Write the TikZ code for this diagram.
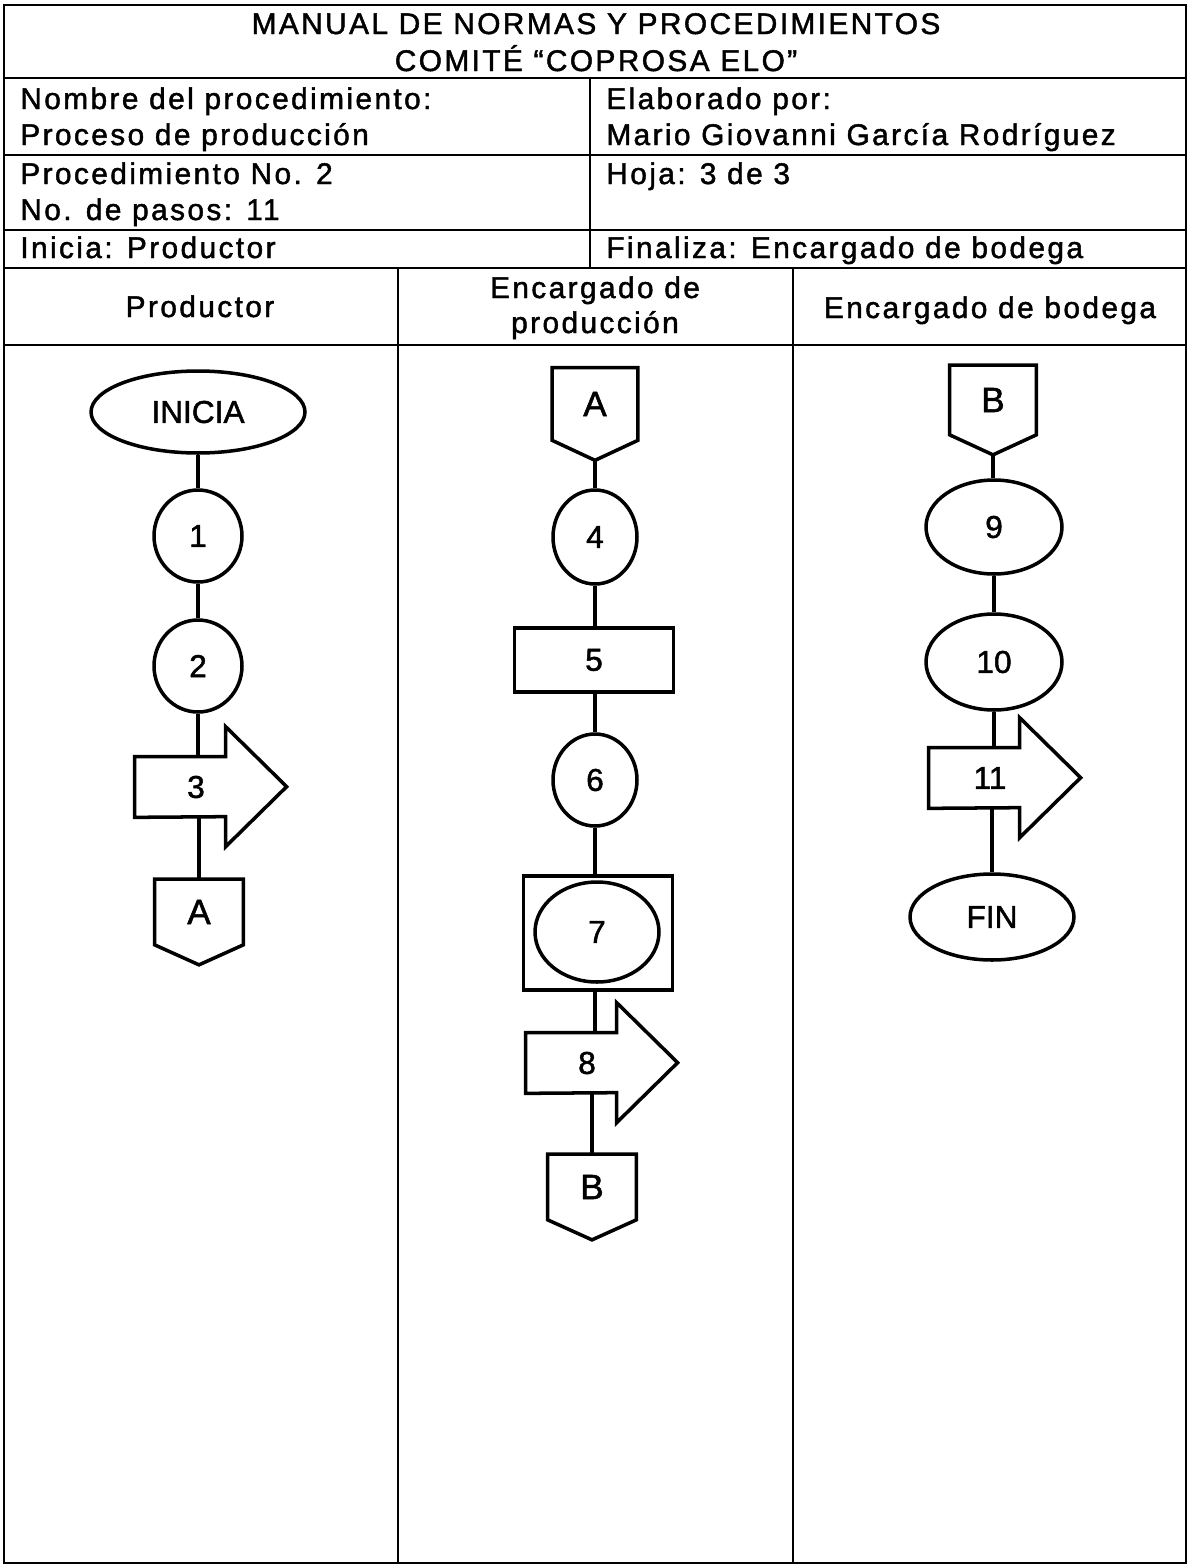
\documentclass[tikz,border=0pt]{standalone}
\usepackage{fontspec}
\setmainfont{Liberation Sans}[FakeBold=1.5]
\newfontfamily\cabfont{Liberation Sans}[LetterSpace=8, FakeBold=1.5]
\newfontfamily\pasofont{Liberation Sans}[FakeBold=1.5]
\usetikzlibrary{shapes.geometric}

\tikzset{
  texto/.style={font=\cabfont\fontsize{17}{19}\selectfont, inner sep=0pt},
  tabla/.style={line width=0.9pt},
  linea/.style={line width=2pt},
  paso/.style={draw, ellipse, line width=2pt, inner sep=0pt, font=\pasofont\fontsize{18}{20}\selectfont},
  caja/.style={draw, rectangle, line width=2pt, inner sep=0pt, font=\pasofont\fontsize{18}{20}\selectfont},
  flecha/.style={rectangle, minimum width=2.44cm, minimum height=1.2cm, inner sep=0pt, font=\pasofont\fontsize{18}{20}\selectfont},
  salto/.style={rectangle, inner sep=0pt, font=\pasofont\fontsize{20}{22}\selectfont}
}

% outline of the transport arrow, body 91 wide, head 61 long
\newcommand{\contornoflecha}[1]{%
  \draw[linea] (#1.north west) -- ++(91,0) -- ++(0,-30) -- ++(61,60) -- ++(-61,60) -- ++(0,-30) -- (#1.south west) -- cycle;}
% off-page connector
\newcommand{\contornosalto}[1]{%
  \draw[linea] (#1.north west) -- (#1.north east) -- (#1.south east) -- ([yshift=-0.4cm]#1.south) -- (#1.south west) -- cycle;}

\begin{document}
\begin{tikzpicture}[x=0.02cm, y=-0.02cm]
\useasboundingbox (0,0) rectangle (1189,1566);

% table
\draw[tabla] (4,5) rectangle (1186,1563);
\foreach \y in {78,155,230,268,345}
  \draw[tabla] (4,\y) -- (1186,\y);
\draw[tabla] (590,78) -- (590,268);
\foreach \x in {398,793}
  \draw[tabla] (\x,268) -- (\x,1563);

% header texts
\node[texto, anchor=base] (titulo1) at (596,34) {MANUAL DE NORMAS Y PROCEDIMIENTOS};
\node[texto, anchor=base] (titulo2) at (596,71) {COMITÉ “COPROSA ELO”};
\node[texto, anchor=base west] (nombre) at (20,109) {Nombre del procedimiento:};
\node[texto, anchor=base west] (proceso) at (20,145) {Proceso de producción};
\node[texto, anchor=base west] (elaborado) at (606,109) {Elaborado por:};
\node[texto, anchor=base west] (autor) at (606,145) {Mario Giovanni García Rodríguez};
\node[texto, anchor=base west] (procno) at (20,184) {Procedimiento No. 2};
\node[texto, anchor=base west] (pasos) at (20,220) {No. de pasos: 11};
\node[texto, anchor=base west] (hoja) at (606,184) {Hoja: 3 de 3};
\node[texto, anchor=base west] (inicia) at (20,258) {Inicia: Productor};
\node[texto, anchor=base west] (finaliza) at (606,258) {Finaliza: Encargado de bodega};

% lane titles
\node[texto, anchor=base] (carril1) at (200,317) {Productor};
\node[texto, anchor=base] (carril2a) at (595,298) {Encargado de};
\node[texto, anchor=base] (carril2b) at (595,333) {producción};
\node[texto, anchor=base] (carril3) at (990,318) {Encargado de bodega};

% Productor
\node[paso, minimum width=4.28cm, minimum height=1.64cm] (ini) at (198,412) {INICIA};
\node[paso, minimum width=1.76cm, minimum height=1.84cm] (n1) at (198,536) {1};
\node[paso, minimum width=1.76cm, minimum height=1.84cm] (n2) at (198,666) {2};
\node[flecha] (p3) at (196,787) {3};
\node[salto, minimum width=1.76cm, minimum height=1.3cm] (saltoA1) at (199,912) {A};
\contornoflecha{p3}
\contornosalto{saltoA1}
\draw[linea] (ini) -- (n1);
\draw[linea] (n1) -- (n2);
\draw[linea] (n2.south) -- (n2.south |- p3.north);
\draw[linea] (p3.south -| saltoA1) -- (saltoA1.north);

% Encargado de produccion
\node[salto, minimum width=1.7cm, minimum height=1.44cm] (saltoA2) at (595,404) {A};
\node[paso, minimum width=1.68cm, minimum height=1.88cm] (n4) at (595,537) {4};
\node[caja, minimum width=3.18cm, minimum height=1.28cm] (n5) at (594,660) {5};
\node[paso, minimum width=1.68cm, minimum height=1.84cm] (n6) at (595,780) {6};
\node[caja, minimum width=2.98cm, minimum height=2.28cm] (c7) at (598,933) {};
\node[paso, minimum width=2.48cm, minimum height=2cm] (n7) at (597,932) {7};
\node[flecha] (p8) at (587,1063) {8};
\node[salto, minimum width=1.76cm, minimum height=1.3cm] (saltoB2) at (592,1187) {B};
\contornosalto{saltoA2}
\contornoflecha{p8}
\contornosalto{saltoB2}
\draw[linea] ([yshift=-0.4cm]saltoA2.south) -- (n4);
\draw[linea] (n4) -- (n4 |- n5.north);
\draw[linea] (n4 |- n5.south) -- (n6);
\draw[linea] (n6.south) -- (n6.south |- c7.north);
\draw[linea] (c7.south -| n6) -- (n6 |- p8.north);
\draw[linea] (p8.south -| saltoB2) -- (saltoB2.north);

% Encargado de bodega
\node[salto, minimum width=1.72cm, minimum height=1.38cm] (saltoB3) at (993,400) {B};
\node[paso, minimum width=2.72cm, minimum height=1.88cm] (n9) at (994,527) {9};
\node[paso, minimum width=2.72cm, minimum height=1.92cm] (n10) at (994,662) {10};
\node[flecha] (p11) at (990,778) {11};
\node[paso, minimum width=3.28cm, minimum height=1.72cm] (fin) at (992,917) {FIN};
\contornosalto{saltoB3}
\contornoflecha{p11}
\draw[linea] ([yshift=-0.4cm]saltoB3.south) -- (saltoB3.south |- n9.north);
\draw[linea] (n9) -- (n10);
\draw[linea] (n10.south) -- (n10.south |- p11.north);
\draw[linea] (p11.south -| fin) -- (fin.north);
\end{tikzpicture}
\end{document}
